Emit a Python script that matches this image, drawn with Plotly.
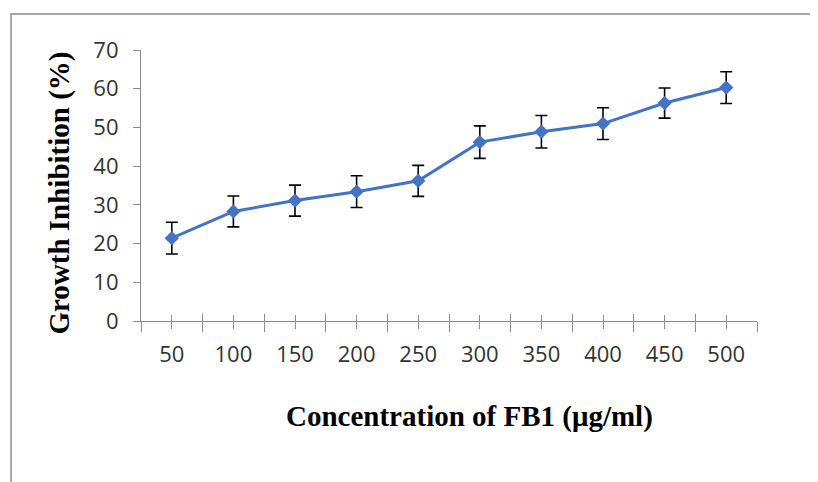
import plotly.graph_objects as go

concentration = [50, 100, 150, 200, 250, 300, 350, 400, 450, 500]
tick_labels = ["50", "100", "150", "200", "250", "300", "350", "400", "450", "500"]
inhibition = [21.4, 28.3, 31.1, 33.4, 36.2, 46.2, 48.9, 51.0, 56.3, 60.3]
errors = [4.1, 4.0, 4.0, 4.1, 4.0, 4.2, 4.2, 4.1, 3.9, 4.1]

y_ticks = [0, 10, 20, 30, 40, 50, 60, 70]

W, H = 818, 482
OFF = 8  # page body margin offset
L = 140.5 - OFF
T = 50 - OFF
R = W - (757 - OFF)
B = H - (321 - OFF)
pw = W - L - R
ph = H - T - B

axis_col = "#8c8c8c"
text_col = "#333333"
tick_font = dict(family="Open Sans", size=22, color=text_col)

fig = go.Figure()
fig.add_trace(go.Scatter(
    x=concentration, y=inhibition,
    mode="lines+markers",
    line=dict(color="#4472C4", width=3),
    marker=dict(symbol="diamond", size=11, color="#4472C4"),
    error_y=dict(type="data", array=errors, visible=True,
                 color="black", thickness=1.6, width=6),
    showlegend=False,
))
# helper trace for overlay axis (ticks crossing the axis line)
fig.add_trace(go.Scatter(x=[concentration[0]], y=[inhibition[0]], xaxis="x2",
                         mode="markers", marker=dict(opacity=0), showlegend=False,
                         hoverinfo="skip"))

fig.update_layout(
    width=W, height=H,
    margin=dict(l=L, r=R, t=T, b=B, pad=0),
    paper_bgcolor="white", plot_bgcolor="white",
    xaxis=dict(
        range=[25, 525], tickmode="array", tickvals=concentration, ticktext=tick_labels,
        showline=True, linecolor=axis_col, linewidth=1.2,
        ticks="outside", ticklen=7, tickcolor=axis_col, tickwidth=1.2,
        minor=dict(tickmode="linear", tick0=25, dtick=50, ticks="outside",
                   ticklen=10, tickcolor=axis_col, tickwidth=1.2),
        showgrid=False, zeroline=False,
        tickfont=tick_font, ticklabelstandoff=6,
    ),
    xaxis2=dict(
        overlaying="x", anchor="y", side="bottom",
        range=[25, 525], tickmode="array", tickvals=concentration,
        showticklabels=False, showline=False,
        ticks="inside", ticklen=6, tickcolor=axis_col, tickwidth=1.2,
        minor=dict(tickmode="linear", tick0=25, dtick=50, ticks="inside",
                   ticklen=7, tickcolor=axis_col, tickwidth=1.2),
        showgrid=False, zeroline=False,
    ),
    yaxis=dict(
        range=[0, 70], tickmode="array", tickvals=y_ticks,
        showline=True, linecolor=axis_col, linewidth=1.2,
        ticks="outside", ticklen=7, tickcolor=axis_col, tickwidth=1.2,
        showgrid=False, zeroline=False,
        tickfont=tick_font, ticklabelstandoff=10,
    ),
)

def px_x(p):
    return (p - OFF - L) / pw

def px_y(p):
    return (H - B - (p - OFF)) / ph

fig.add_shape(type="rect", xref="paper", yref="paper",
              x0=px_x(10.5), x1=px_x(W + 50), y0=px_y(H + 50), y1=px_y(14),
              line=dict(color="#a6a6a6", width=2), fillcolor="rgba(0,0,0,0)", layer="below")

fig.add_annotation(text="<b>Growth Inhibition (%)</b>", xref="paper", yref="paper",
                   x=px_x(58), y=px_y(193), textangle=-90, showarrow=False,
                   xanchor="center", yanchor="middle",
                   font=dict(family="Liberation Serif", size=29, color="black"))
fig.add_annotation(text="<b>Concentration of FB1 (μg/ml)</b>", xref="paper", yref="paper",
                   x=px_x(469), y=px_y(416), showarrow=False,
                   xanchor="center", yanchor="middle",
                   font=dict(family="Liberation Serif", size=29, color="black"))

fig.write_html("out.html")
